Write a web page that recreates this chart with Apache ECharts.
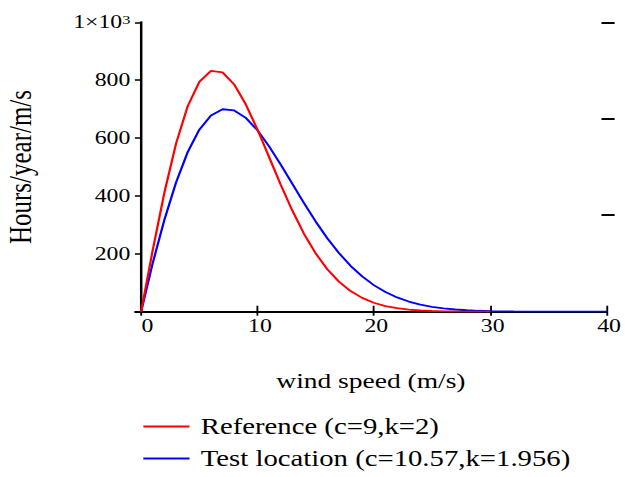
<!DOCTYPE html>
<html>
<head>
<meta charset="utf-8">
<script src="https://cdn.jsdelivr.net/npm/echarts@6/dist/echarts.min.js"></script>
<style>
  html, body { margin: 0; padding: 0; background: #fff; overflow: hidden; }
  #wrap { width: 631px; height: 477px; overflow: hidden; }
  /* the plot is laid out at 505px wide and stretched to the page width */
  #chart { width: 505px; height: 477px; transform: scaleX(1.2495); transform-origin: 0 0; }
</style>
</head>
<body>
<div id="wrap"><div id="chart"></div></div>
<script>
// wind speed samples (m/s)
const windSpeed = [0, 1, 2, 3, 4, 5, 6, 7, 8, 9, 10, 11, 12, 13, 14, 15, 16, 17, 18, 19, 20,
  21, 22, 23, 24, 25, 26, 27, 28, 29, 30, 31, 32, 33, 34, 35, 36, 37, 38, 39, 40];

// hours per year per m/s, reference site (c=9, k=2), 0..30 m/s
const referenceHours = [0, 213.6, 411.8, 580.7, 710.1, 794.3, 832.1, 826.9, 785.3, 716.1,
  629.3, 534.2, 438.7, 349.0, 269.3, 201.7, 146.7, 103.8, 71.3, 47.7,
  31.0, 19.6, 12.1, 7.3, 4.2, 2.4, 1.3, 0.7, 0.4, 0.2, 0.1];

// hours per year per m/s, test location (c=10.57, k=1.956), 0..40 m/s
const testHours = [0, 168.5, 317.6, 446.6, 551.4, 628.9, 678.0, 699.5, 695.5, 669.8,
  626.8, 571.2, 508.0, 441.4, 374.9, 311.8, 254.0, 202.8, 158.6, 121.8,
  91.8, 67.9, 49.3, 35.1, 24.6, 16.9, 11.4, 7.6, 5.0, 3.2,
  2.0, 1.2, 0.8, 0.5, 0.3, 0.2, 0.1, 0.1, 0, 0, 0];

const xTicks = [0, 10, 20, 30, 40];
const yTicks = [200, 400, 600, 800, 1000];
const seriesNames = ['Reference (c=9,k=2)', 'Test location (c=10.57,k=1.956)'];

const FONT = 'Liberation Serif';

function pairs(ys) {
  return ys.map((y, i) => [windSpeed[i], y]);
}

function legendRow(name, top) {
  return {
    data: [name],
    left: 114.7,
    top: top,
    itemWidth: 37,
    itemHeight: 2,
    icon: 'rect',
    padding: 0,
    textStyle: { fontFamily: FONT, fontSize: 23, color: '#000', padding: [0, 0, 0, 4] }
  };
}

const chart = echarts.init(document.getElementById('chart'), null, { renderer: 'svg' });

chart.setOption({
  animation: false,
  backgroundColor: '#ffffff',
  grid: { left: 108.3, right: 19.6, top: 22.3, bottom: 165.3, containLabel: false, outerBoundsMode: 'none' },
  legend: [legendRow(seriesNames[0], 415), legendRow(seriesNames[1], 447)],
  xAxis: [
    {
      type: 'value', min: -0.5, max: 40,
      axisLine: { show: true, onZero: true, lineStyle: { color: '#000', width: 2 } },
      axisTick: { show: true, customValues: xTicks, length: 4, lineStyle: { color: '#000', width: 1.5 } },
      axisLabel: {
        show: true, customValues: xTicks, margin: 5,
        formatter: v => (v === 0 ? '{z|0}' : '{n|' + v + '}'),
        rich: {
          z: { fontFamily: FONT, fontSize: 19, color: '#000', padding: [0, 0, 0, 10] },
          n: { fontFamily: FONT, fontSize: 19, color: '#000', padding: [0, 0, 0, 4] }
        }
      },
      splitLine: { show: false },
      name: 'wind speed (m/s)', nameLocation: 'middle', nameGap: 58,
      nameTextStyle: { fontFamily: FONT, fontSize: 22, color: '#000' }
    },
    {
      type: 'value', min: -0.5, max: 40, position: 'bottom',
      axisLine: { show: false, onZero: false },
      axisTick: { show: true, inside: true, customValues: xTicks, length: 6, lineStyle: { color: '#000', width: 1.5 } },
      axisLabel: { show: false },
      splitLine: { show: false }
    }
  ],
  yAxis: [
    {
      type: 'value', min: 0, max: 1000, position: 'left',
      axisLine: { show: true, onZero: true, lineStyle: { color: '#000', width: 2 } },
      axisTick: { show: true, customValues: yTicks, length: 5, lineStyle: { color: '#000', width: 1.5 } },
      axisLabel: {
        show: true, customValues: yTicks, margin: 4,
        formatter: v => (v === 1000 ? '{b|1×10}{s|3}' : '{n|' + v + '}'),
        rich: {
          n: { fontFamily: FONT, fontSize: 19, color: '#000' },
          b: { fontFamily: FONT, fontSize: 19, color: '#000', verticalAlign: 'bottom' },
          s: { fontFamily: FONT, fontSize: 13, lineHeight: 13, color: '#000', verticalAlign: 'top', padding: [0, 0, 10, 0] }
        }
      },
      splitLine: { show: false },
      name: 'Hours/year/m/s', nameLocation: 'middle', nameGap: 79, nameRotate: 90,
      nameTextStyle: { fontFamily: FONT, fontSize: 25, color: '#000' }
    },
    {
      type: 'value', min: 0, max: 3, position: 'right', offset: -4,
      axisLine: { show: false, onZero: false },
      axisTick: { show: true, customValues: [1, 2, 3], length: 10.5, lineStyle: { color: '#000', width: 2 } },
      axisLabel: { show: false },
      splitLine: { show: false }
    }
  ],
  series: [
    {
      name: seriesNames[1], type: 'line', xAxisIndex: 0, yAxisIndex: 0,
      data: pairs(testHours), showSymbol: false, symbol: 'none', z: 2,
      itemStyle: { color: '#0000ff' },
      lineStyle: { color: '#0000ff', width: 1.8 }
    },
    {
      name: seriesNames[0], type: 'line', xAxisIndex: 0, yAxisIndex: 0,
      data: pairs(referenceHours), showSymbol: false, symbol: 'none', z: 3,
      itemStyle: { color: '#ff0000' },
      lineStyle: { color: '#ff0000', width: 1.8 }
    }
  ]
});
</script>
</body>
</html>
